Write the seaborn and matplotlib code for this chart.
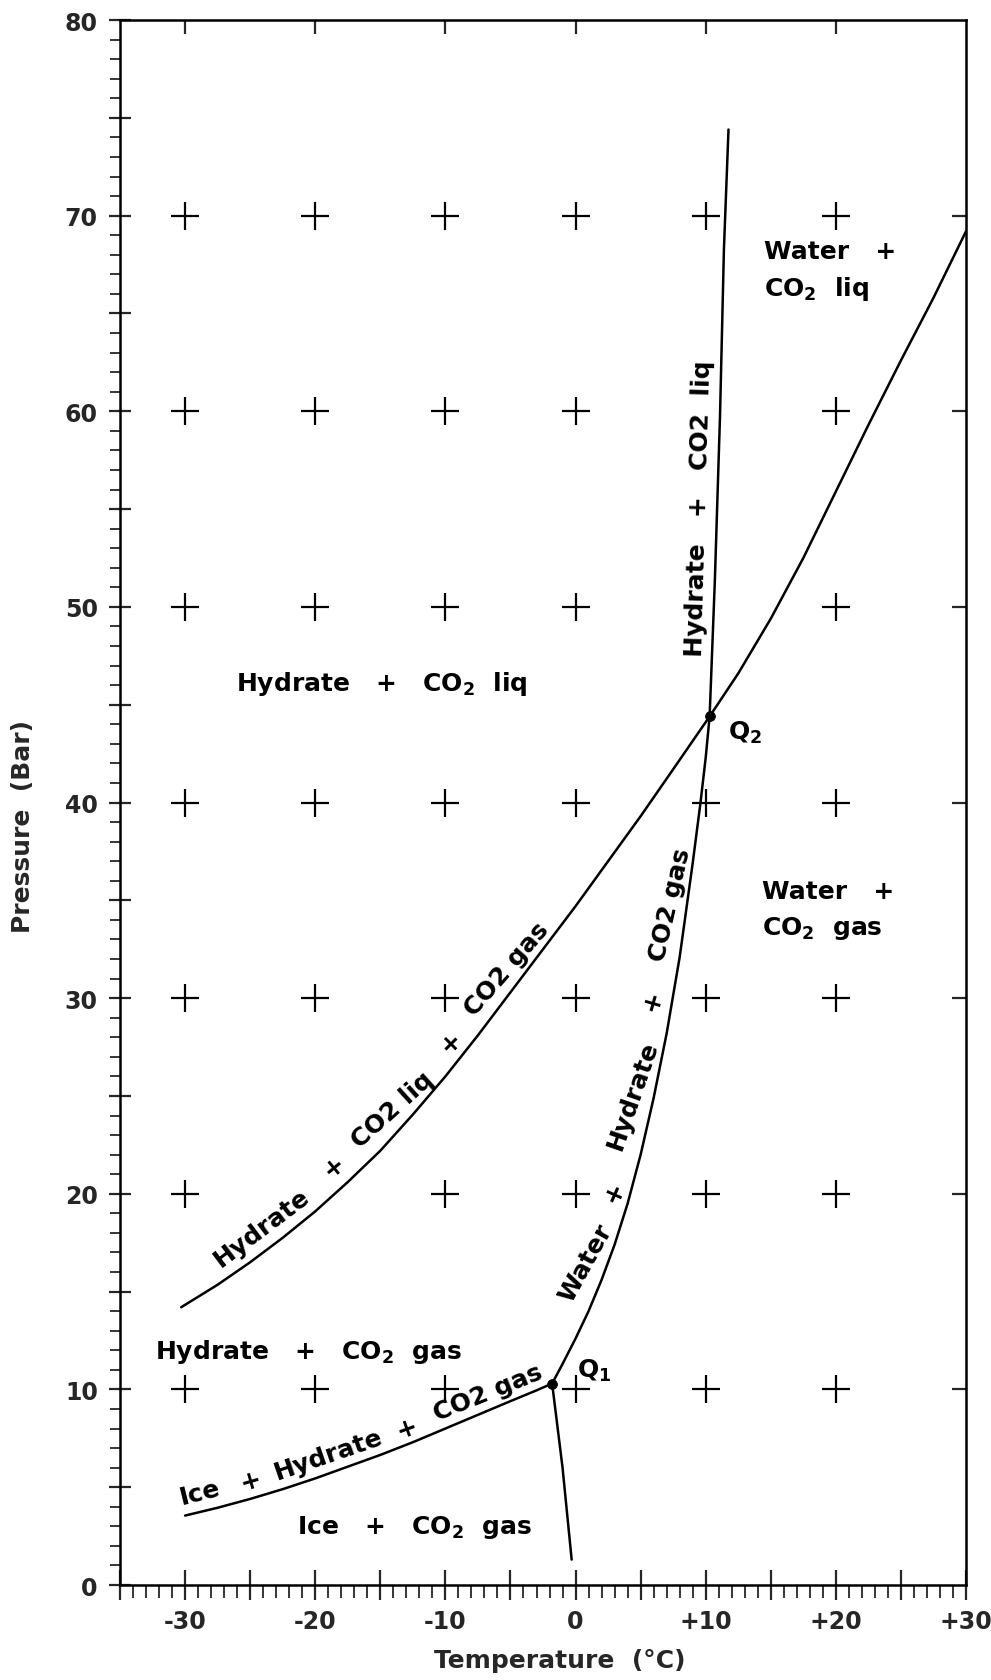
import numpy as np
import pandas as pd
import seaborn as sns
import matplotlib
matplotlib.use("Agg")
import matplotlib.pyplot as plt
from matplotlib.ticker import MultipleLocator, FuncFormatter

# ---------------- data ----------------
# Hydrate + CO2 liq + CO2 gas boundary, continuing above Q2 (Water + CO2 liq / gas)
curve_a_T = [-30.3, -27.5, -25, -22.5, -20, -17.5, -15, -12.5, -10, -7.5, -5, -2.5, 0,
             2.5, 5, 7.5, 10.3, 12.5, 15, 17.5, 20, 22.5, 25, 27.5, 30]
curve_a_P = [14.2, 15.35, 16.5, 17.75, 19.1, 20.6, 22.2, 24.05, 26.0, 28.1, 30.3, 32.5, 34.7,
             37.0, 39.3, 41.7, 44.4, 46.6, 49.4, 52.5, 55.9, 59.3, 62.6, 65.8, 69.2]
# Ice + Hydrate + CO2 gas boundary
curve_b_T = [-30, -27.5, -25, -22.5, -20, -17.5, -15, -12.5, -10, -7.5, -5, -3, -1.8]
curve_b_P = [3.55, 3.95, 4.4, 4.9, 5.45, 6.05, 6.65, 7.3, 8.0, 8.7, 9.4, 9.95, 10.3]
# Ice melting line below Q1
curve_c_T = [-1.8, -1.0, -0.3]
curve_c_P = [10.3, 6.0, 1.3]
# Water + Hydrate + CO2 gas boundary (Q1 -> Q2)
curve_d_T = [-1.8, -1.0, 0, 1.0, 2.0, 3.0, 4.0, 5.0, 6.0, 7.0, 8.0, 9.0, 9.6, 10.0, 10.3]
curve_d_P = [10.3, 11.3, 12.6, 14.0, 15.6, 17.4, 19.5, 22.0, 24.9, 28.2, 32.1, 36.9, 40.0, 42.3, 44.4]
# Hydrate + CO2 liq boundary above Q2
curve_e_T = [10.3, 10.7, 11.1, 11.4, 11.75]
curve_e_P = [44.4, 51.3, 59.8, 68.3, 74.4]

# quadruple points
q_T = [-1.8, 10.3]
q_P = [10.3, 44.4]

# grid "+" marks
plus_T = ([-30, -20, -10, 0, 10, 20] + [-30, -20, -10, 0, 20] + [-30, -20, -10, 0, 20]
          + [-30, -20, -10, 0, 10, 20] + [-30, -20, -10, 0, 10, 20]
          + [-30, -10, 0, 10, 20] + [-30, -20, -10, 0, 10, 20])
plus_P = ([70] * 6 + [60] * 5 + [50] * 5 + [40] * 6 + [30] * 6 + [20] * 5 + [10] * 6)

x_ticklabels = {-30: "-30", -20: "-20", -10: "-10", 0: "0", 10: "+10", 20: "+20", 30: "+30"}

# ---------------- style ----------------
sns.set_style("ticks")
plt.rcParams["font.family"] = ["DejaVu Sans"]
plt.rcParams["font.weight"] = "bold"
plt.rcParams["mathtext.fontset"] = "dejavusans"
plt.rcParams["mathtext.default"] = "bf"

fig = plt.figure(figsize=(9.91, 16.81), dpi=100)
ax = fig.add_axes([0.1211, 0.0565, 0.8537, 0.931])

lw = 1.8
for T, P in [(curve_a_T, curve_a_P), (curve_b_T, curve_b_P), (curve_c_T, curve_c_P),
             (curve_d_T, curve_d_P), (curve_e_T, curve_e_P)]:
    sns.lineplot(x=T, y=P, ax=ax, color="black", linewidth=lw, sort=False,
                 estimator=None, legend=False)

sns.scatterplot(x=plus_T, y=plus_P, ax=ax, marker="+", s=380, linewidth=1.6,
                color="black", legend=False)
sns.scatterplot(x=q_T, y=q_P, ax=ax, s=50, color="black", edgecolor="black",
                legend=False, zorder=5)

ax.set_xlim(-35, 30)
ax.set_ylim(0, 80)

# ---------------- ticks ----------------
def is10(v):
    r = abs(v) % 10
    return r < 1e-6 or abs(r - 10) < 1e-6

ax.xaxis.set_major_locator(MultipleLocator(5))
ax.xaxis.set_minor_locator(MultipleLocator(1))
ax.yaxis.set_major_locator(MultipleLocator(5))
ax.yaxis.set_minor_locator(MultipleLocator(1))
ax.xaxis.set_major_formatter(FuncFormatter(
    lambda v, p: x_ticklabels.get(int(round(v)), "") if is10(v) else ""))
ax.yaxis.set_major_formatter(FuncFormatter(
    lambda v, p: "%d" % round(v) if is10(v) else ""))
ax.tick_params(axis="x", which="major", direction="inout", length=22, width=1.6,
               labelsize=17, pad=6, top=False)
ax.tick_params(axis="x", which="minor", direction="out", length=9, width=1.3, top=False)
ax.tick_params(axis="y", which="major", direction="inout", length=16, width=1.6,
               labelsize=17, pad=8, right=False)
ax.tick_params(axis="y", which="minor", direction="out", length=7, width=1.3, right=False)

for s in ax.spines.values():
    s.set_visible(True)
    s.set_linewidth(1.8)
    s.set_color("black")

secx = ax.secondary_xaxis("top")
secx.set_xticks([-30, -20, -10, 0, 10, 20])
secx.tick_params(direction="in", length=10, width=1.6, labeltop=False)
secx.set_xticklabels([])
secy = ax.secondary_yaxis("right")
secy.set_yticks([10, 20, 30, 40, 50, 60, 70])
secy.tick_params(direction="in", length=10, width=1.6, labelright=False)
secy.set_yticklabels([])

ax.set_xlabel("Temperature  (°C)", fontsize=18, fontweight="bold")
ax.set_ylabel("Pressure  (Bar)", fontsize=18, fontweight="bold")
ax.yaxis.set_label_coords(-0.1, 0.485)
ax.xaxis.set_label_coords(0.52, -0.04)

# ---------------- labels ----------------
fs = 18
kw = dict(fontsize=fs, fontweight="bold", color="black", ha="center", va="center",
          rotation_mode="anchor")
kwl = {**kw, "ha": "left"}
ax.text(-14.9, 46.1, "Hydrate   +   CO$_2$  liq", **kw)
ax.text(-32.3, 11.95, "Hydrate   +   CO$_2$  gas", **kwl)
ax.text(-21.4, 3.0, "Ice   +   CO$_2$  gas", **kwl)
ax.text(14.5, 68.2, "Water   +", **kwl)
ax.text(14.5, 66.3, "CO$_2$  liq", **kwl)
ax.text(14.3, 35.5, "Water   +", **kwl)
ax.text(14.3, 33.6, "CO$_2$  gas", **kwl)
ax.text(11.7, 43.6, "Q$_2$", **kwl)
ax.text(0.1, 11.0, "Q$_1$", **kwl)

# along Hydrate + CO2 liq + CO2 gas curve
for t, p, r, s in [(-24.1, 18.3, 37, "Hydrate"), (-18.6, 21.4, 40, "+"),
                   (-14.1, 24.3, 42, "CO2 liq"), (-9.6, 27.8, 45, "+"),
                   (-5.3, 31.5, 49, "CO2 gas")]:
    ax.text(t, p, s, rotation=r, **kw)
# along Ice + Hydrate + CO2 gas curve
for t, p, r, s in [(-28.85, 4.75, 14, "Ice"), (-25.0, 5.35, 16, "+"),
                   (-19.0, 6.7, 19, "Hydrate"), (-13.0, 8.05, 20, "+"),
                   (-6.7, 9.85, 22, "CO2 gas")]:
    ax.text(t, p, s, rotation=r, **kw)
# along Water + Hydrate + CO2 gas curve
for t, p, r, s in [(0.8, 16.5, 61, "Water"), (3.0, 20.1, 66, "+"),
                   (4.4, 25.1, 71, "Hydrate"), (5.95, 29.9, 74, "+"),
                   (7.3, 34.8, 77, "CO2 gas")]:
    ax.text(t, p, s, rotation=r, **kw)
# along Hydrate + CO2 liq (near-vertical)
ax.text(9.5, 55.1, "Hydrate   +   CO2  liq", rotation=88.4, **kw)

fig.savefig("out.png", dpi=100)
